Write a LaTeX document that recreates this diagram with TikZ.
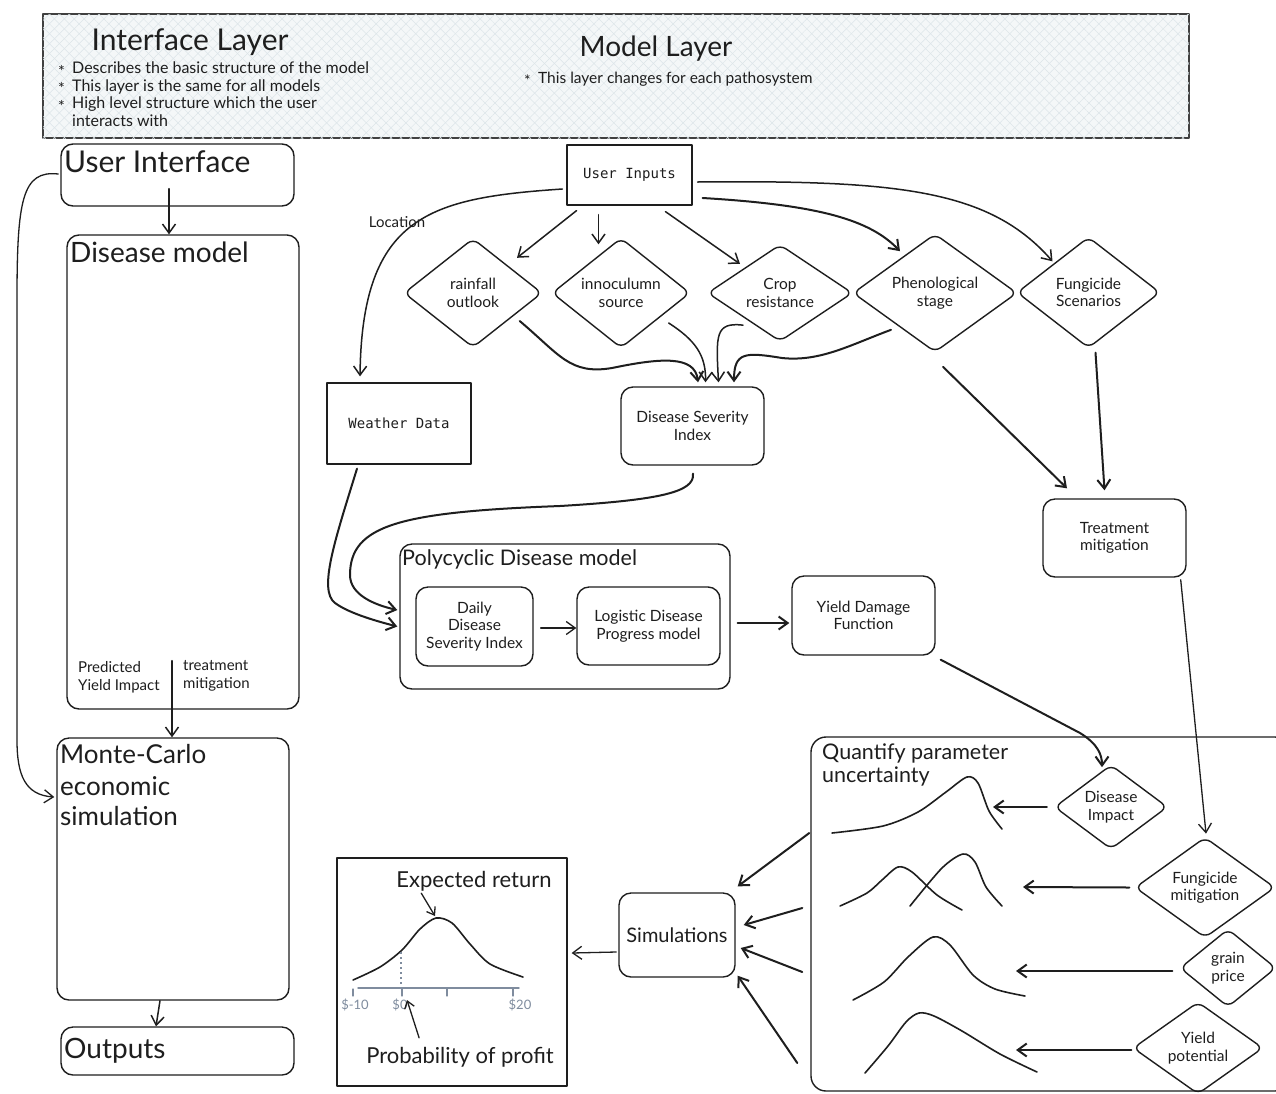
\documentclass[tikz,border=0pt]{standalone}
\usepackage{fontspec}
\setmainfont{Lato}
\setmonofont{DejaVu Sans Mono}
\usetikzlibrary{arrows.meta,calc,shapes.geometric,patterns.meta}
\definecolor{ink}{HTML}{1E1E1E}
\definecolor{bannerfill}{HTML}{F4F7F8}
\definecolor{hatch}{HTML}{DCE5E9}
\definecolor{axisc}{HTML}{7F8C9E}
\newcommand{\fsz}[2]{\fontsize{#1}{#2}\selectfont}
\newcommand{\bul}{\makebox[14pt][l]{\raisebox{-0.4ex}[0pt][0pt]{*}}}
\begin{document}
\begin{tikzpicture}[x=1pt,y=-1pt,line join=round,line cap=round,
  every node/.style={inner sep=0pt,text=ink},
  box/.style={draw=ink,line width=1.4pt,rounded corners=12pt},
  sbox/.style={draw=ink,line width=1.3pt},
  dia/.style={diamond,draw=ink,line width=1.4pt,rounded corners=7pt,align=center,font=\fsz{15.5}{17.5}},
  txt/.style={align=center,font=\fsz{15.5}{17.5}},
  ttl/.style={font=\fsz{28}{32}},
  mct/.style={font=\fsz{26}{30}},
  mid/.style={font=\fsz{21.5}{24}},
  sm/.style={align=left,font=\fsz{15}{18}},
  mono/.style={font=\ttfamily\fsz{14}{16}},
  arr/.style={draw=ink,line width=1.5pt,-{Straight Barb[length=9pt,width=13pt]}},
  thk/.style={line width=2pt},
  curve/.style={draw=ink,line width=1.6pt},
  banner/.style={draw=ink!85,line width=1.6pt,fill=bannerfill,
    postaction={pattern={Lines[angle=45,distance=7pt,line width=0.5pt]},pattern color=hatch},
    postaction={pattern={Lines[angle=-45,distance=7pt,line width=0.5pt]},pattern color=hatch}}
]
\useasboundingbox (0,0) rectangle (1276,1093);
\clip (0,0) rectangle (1276,1093);
\fill[white] (0,0) rectangle (1276,1093);

% ---------- banner ----------
\node[banner,minimum width=1146pt,minimum height=124pt] (banner) at (616,76) {};
\node[font=\fsz{30}{34}] (iltitle) at (190,42) {Interface Layer};
\node[anchor=north west,align=left,font=\fsz{16}{17.4}] (ibul) at (58,62)
  {\bul Describes the basic structure of the model\\
   \bul This layer is the same for all models\\
   \bul High level structure which the user\\
   \hspace*{14pt}interacts with};
\node[ttl] (mltitle) at (656,49) {Model Layer};
\node[anchor=west,font=\fsz{15.5}{18}] (mlb) at (524,79) {\bul This layer changes for each pathosystem};

% ---------- left column ----------
\node[box,minimum width=233pt,minimum height=62pt] (ui) at (177.5,175) {};
\node[font=\fsz{30}{34},anchor=base west] (uit) at (64,172) {User Interface};
\node[box,minimum width=232pt,minimum height=474pt] (dm) at (183,472) {};
\node[ttl,anchor=base west] (dmt) at (70,262) {Disease model};
\node[sm,anchor=west] (pyi) at (78,677) {Predicted\\Yield Impact};
\node[sm,anchor=west] (tmi) at (183,676) {treatment\\mitigation};
\node[box,minimum width=232pt,minimum height=262pt] (mc) at (173,869) {};
\node[mct,anchor=base west] (mc1) at (60,763) {Monte-Carlo};
\node[mct,anchor=base west] (mc2) at (60,795) {economic};
\node[mct,anchor=base west] (mc3) at (60,825) {simulation};
\node[box,minimum width=233pt,minimum height=48pt] (out) at (177.5,1051) {};
\node[ttl,anchor=base west] (outt) at (64,1058) {Outputs};

\draw[arr] ($(ui.south)+(-8.5,-18)$) -- ($(dm.north)+(-14,0)$);
\draw[arr] ($(dm.south)+(-11,-49)$) -- ($(mc.north)+(-1,0)$);
\draw[arr] ($(mc.south)+(-13,0)$) -- ($(out.north)+(-21.5,0)$);
\draw[arr,line width=1.3pt] ($(ui.west)+(-2,-1)$) .. controls (22,170) and (17,200) .. (17,300)
   -- (17,740) .. controls (17,775) and (25,795) .. ($(mc.west)+(-2,-72)$);

% ---------- model layer top ----------
\node[sbox,mono,minimum width=125pt,minimum height=60pt] (uin) at (629.5,175) {User Inputs};
\node[dia,minimum width=138pt,minimum height=109pt] (rain) at (473,293) {rainfall\\outlook};
\node[dia,minimum width=138pt,minimum height=110pt] (inoc) at (621,293) {innoculumn\\source};
\node[dia,minimum width=145pt,minimum height=90pt] (crop) at (780,293) {Crop\\resistance};
\node[dia,minimum width=164pt,minimum height=110pt] (phen) at (935,293) {Phenological\\stage};
\node[dia,minimum width=143pt,minimum height=111pt] (fung) at (1088.5,292.5) {Fungicide\\Scenarios};
\node[box,txt,minimum width=143pt,minimum height=78pt] (dsi) at (692.5,426) {Disease Severity\\Index};
\node[sbox,mono,minimum width=144pt,minimum height=81pt] (wd) at (399,423.5) {Weather Data};
\node[sm] (loc) at (397,222) {Location};

\draw[arr] ($(uin.west)+(-4,14)$) .. controls (430,198) and (362,215) .. ($(wd.north)+(-39,-6)$);
\draw[arr] ($(uin.south)+(-53,5)$) -- ($(rain.north)+(44,20)$);
\draw[arr] ($(uin.south)+(-31,9)$) -- ($(inoc.north)+(-22.5,7)$);
\draw[arr] ($(uin.south)+(36,6)$) -- ($(crop.north)+(-40,20)$);
\draw[arr,thk] ($(uin.east)+(10,23)$) .. controls (820,205) and (870,220) .. ($(phen.north)+(-35,18)$);
\draw[arr] ($(uin.east)+(5,7)$) .. controls (900,180) and (990,190) .. ($(fung.north)+(-36,25)$);

\draw[arr,thk] ($(rain.east)+(-23,28)$) .. controls (560,355) and (570,375) .. (612,368)
   .. controls (660,358) and (695,355) .. ($(dsi.north)+(5.5,-4)$);
\draw[arr] ($(inoc.east)+(-22,30)$) .. controls (695,340) and (706,355) .. ($(dsi.north)+(13,-4)$);
\draw[arr] ($(crop.south)+(-37,-17)$) .. controls (715,322) and (716,335) .. ($(dsi.north)+(26,-4)$);
\draw[arr,thk] ($(phen.south)+(-44,-23)$) .. controls (850,345) and (820,362) .. (782,358)
   .. controls (745,352) and (734,352) .. ($(dsi.north)+(41.5,-4)$);

% ---------- polycyclic ----------
\node[box,minimum width=330pt,minimum height=145pt] (poly) at (565,616.5) {};
\node[mid,anchor=base west] (polyt) at (402,565) {Polycyclic Disease model};
\node[box,txt,minimum width=117pt,minimum height=79pt] (daily) at (474.5,626.5) {Daily\\Disease\\Severity Index};
\node[box,txt,minimum width=143pt,minimum height=78pt] (logi) at (648.5,626) {Logistic Disease\\Progress model};
\node[box,txt,minimum width=143pt,minimum height=79pt] (ydf) at (863.5,615.5) {Yield Damage\\Function};
\node[box,txt,minimum width=143pt,minimum height=78pt] (treat) at (1114.5,538) {Treatment\\mitigation};

\draw[arr,thk] ($(wd.south)+(-42,4)$) .. controls (335,540) and (318,590) .. (335,603)
   .. controls (350,614) and (380,622) .. ($(poly.west)+(-2,10)$);
\draw[arr,thk] ($(dsi.south)+(0.5,8)$) .. controls (695,492) and (660,500) .. (560,506)
   .. controls (400,512) and (350,525) .. (350,575) .. controls (350,595) and (375,605) .. ($(poly.west)+(-2,-6.5)$);
\draw[arr,line width=1.3pt] ($(daily.east)+(7,1.5)$) -- ($(logi.west)+(0,2)$);
\draw[arr,thk] ($(poly.east)+(7,6.5)$) -- ($(ydf.west)+(-2,7.5)$);
\draw[arr,thk] ($(phen.south)+(8,14)$) -- ($(treat.north)+(-47.5,-10)$);
\draw[arr,thk] ($(fung.south)+(7,4)$) -- ($(treat.north)+(-10,-8)$);

% ---------- quantify parameter uncertainty ----------
\node[box,rounded corners=15pt,minimum width=479pt,minimum height=354pt] (qpu) at (1050.5,914) {};
\node[mid,anchor=base west] (qpt1) at (822,759) {Quantify parameter};
\node[mid,anchor=base west] (qpt2) at (822,782) {uncertainty};
\node[dia,minimum width=113pt,minimum height=80pt] (dimp) at (1111,807) {Disease\\Impact};
\node[dia,minimum width=140pt,minimum height=83pt] (fmit) at (1205,887.5) {Fungicide\\mitigation};
\node[dia,minimum width=96pt,minimum height=78pt] (gprice) at (1228,968) {grain\\price};
\node[dia,minimum width=130pt,minimum height=77pt] (ypot) at (1198,1048) {Yield\\potential};

\draw[arr,thk] ($(ydf.south east)+(5,4)$) -- (1080,733) .. controls (1098,744) and (1102,755) .. ($(dimp.north)+(-9,3)$);
\draw[arr,line width=1.3pt] ($(treat.south east)+(-6,2)$) -- ($(fmit.north)+(1,-3)$);

\coordinate (c1) at (993,807);
\coordinate (c2) at (1023,887);
\coordinate (c3) at (1016,971);
\coordinate (c4) at (1016,1050);
\draw[arr,thk] ($(dimp.west)+(-7,0)$) -- (c1);
\draw[arr,thk] ($(fmit.west)+(-5,0)$) -- (c2);
\draw[arr,thk] ($(gprice.west)+(-7,3)$) -- (c3);
\draw[arr,thk] ($(ypot.west)+(-1,2)$) -- (c4);

\draw[curve] plot[smooth] coordinates {(832,833) (883,826) (918,812) (946,792) (967,777) (978,783) (989,811) (1002,829)};
\draw[curve] plot[smooth] coordinates {(840,906) (867,893) (882,880) (898,867) (912,872) (937,895) (962,910)};
\draw[curve] plot[smooth] coordinates {(910,906) (942,868) (963,854) (975,862) (986,887) (1002,906)};
\draw[curve] plot[smooth] coordinates {(853,1000) (884,982) (908,957) (933,937) (950,945) (973,975) (995,989) (1025,996)};
\draw[curve] plot[smooth] coordinates {(865,1073) (888,1046) (906,1022) (919,1013) (934,1016) (962,1031) (1000,1054) (1037,1072)};

% ---------- simulations ----------
\node[box,minimum width=116pt,minimum height=84pt,font=\fsz{20}{23}] (sim) at (677,935) {Simulations};
\draw[arr,thk] ($(qpu.west)+(-1,-81)$) -- ($(sim.north east)+(2,-6)$);
\draw[arr,thk] ($(qpu.west)+(-8,-6)$) -- ($(sim.east)+(8,-10)$);
\draw[arr,thk] ($(qpu.west)+(-8,58)$) -- ($(sim.east)+(5,13)$);
\draw[arr,thk] ($(qpu.west)+(-13,149)$) -- ($(sim.south east)+(2,-2)$);

% ---------- output chart ----------
\node[sbox,minimum width=230pt,minimum height=228pt] (chart) at (452,972) {};
\draw[arr,line width=1.3pt] ($(sim.west)+(-2,17)$) -- ($(chart.east)+(4,-19)$);
\node[font=\fsz{22}{25}] (er) at (474,881) {Expected return};
\node[font=\fsz{22}{25}] (pp) at (460,1057) {Probability of profit};
\draw[curve] plot[smooth] coordinates {(353,980) (380,967) (402,950) (420,929) (436,918) (452,923) (470,944) (490,964) (523,977)};
\draw[axisc,line width=1.2pt,line cap=butt,dash pattern=on 2pt off 3pt] (401,952) -- (401,986);
\draw[axisc,line width=1.4pt] (358,988) -- (519,988);
\foreach \tx in {353,402,447,513} \draw[axisc,line width=1.2pt] (\tx,989) -- (\tx,996);
\node[font=\fsz{13}{15},text=axisc] (tm10) at (355,1005) {\$-10};
\node[font=\fsz{13}{15},text=axisc] (t0) at (400,1005) {\$0};
\node[font=\fsz{13}{15},text=axisc] (t20) at (520,1005) {\$20};
\coordinate (erpeak) at (435,916);
\coordinate (pptip) at (407,1000);
\draw[draw=ink,line width=1.3pt,-{Straight Barb[length=7pt,width=10pt]}] ($(er.south west)+(25,2)$) -- (erpeak);
\draw[draw=ink,line width=1.3pt,-{Straight Barb[length=7pt,width=10pt]}] ($(pp.north west)+(53,-9)$) -- (pptip);
\end{tikzpicture}
\end{document}
